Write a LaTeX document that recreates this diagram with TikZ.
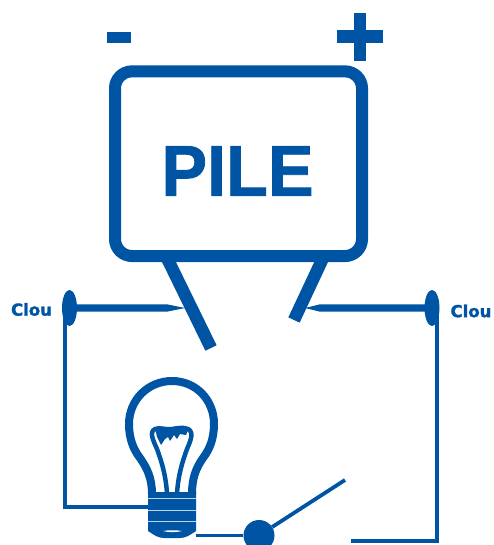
\documentclass[tikz,border=0pt]{standalone}
\usepackage{fontspec}
\setmainfont{Liberation Sans}
\newfontfamily\cloufont{DejaVu Sans Bold}[FakeBold=1.5]
\newfontfamily\pilefont{Liberation Sans Bold}[FakeBold=1.2]
\definecolor{pileblue}{HTML}{0054A4}
\usetikzlibrary{shapes.geometric}
\tikzset{
  x=1pt,y=-1pt,
  wire/.style={draw=pileblue,line width=3.8pt},
  contactbar/.style={draw=pileblue,line width=12.5pt},
  nailhead/.style={ellipse,fill=pileblue,inner sep=0pt,minimum width=15pt,minimum height=36pt},
  nailtext/.style={text=pileblue,font=\cloufont\fontsize{16.5}{16.5}\selectfont,inner sep=0pt},
  bulbline/.style={draw=pileblue,line width=8pt,line join=round},
  filament/.style={draw=pileblue,line width=4.5pt,line join=round},
  stripe/.style={draw=white!75!pileblue,line width=.7pt},
}
\begin{document}
\begin{tikzpicture}
\useasboundingbox (0,0) rectangle (493,545);
% battery
\node[draw=pileblue,line width=12pt,rounded corners=17pt,minimum width=247pt,minimum height=184.7pt,inner sep=0pt] (pile) at (238.5,163.7) {};
\node[text=pileblue,font=\pilefont\fontsize{72}{72}\selectfont,inner sep=0pt,xscale=.95] (piletext) at (237.5,171) {PILE};
\fill[pileblue] (107,32) rectangle (131,43);
\fill[pileblue] (337,30) rectangle (383,43);
\fill[pileblue] (354,13) rectangle (366,61);
% contact bars
\coordinate (barLtop) at (167,258);
\coordinate (barLend) at (211,348);
\coordinate (barRtop) at (323,258);
\coordinate (barRend) at (294,320);
\draw[contactbar] (barLtop) -- (barLend);
\draw[contactbar] (barRtop) -- (barRend);
% nails
\node[nailhead] (headL) at (69.5,308) {};
\node[nailhead] (headR) at (432,308) {};
\fill[pileblue] (69.5,304.3) -- (167,304.3) -- (185,308) -- (167,311.7) -- (69.5,311.7) -- cycle;
\fill[pileblue] (432,304.3) -- (320,304.3) -- (305,308) -- (320,311.7) -- (432,311.7) -- cycle;
\node[nailtext] (clouL) at (31.5,309.5) {Clou};
\node[nailtext] (clouR) at (471,311) {Clou};
% bulb glass
\coordinate (baseL) at (148,507);
\coordinate (baseR) at (196,535.5);
\draw[bulbline] (152,494) .. controls (152,478) and (147,468) .. (140,458)
  .. controls (133,449) and (129,438) .. (129,424)
  .. controls (129,400) and (148,381) .. (172,381)
  .. controls (196,381) and (214,400) .. (214,424)
  .. controls (214,438) and (210,449) .. (203,458)
  .. controls (196,468) and (192,478) .. (192,494);
% filament
\draw[filament] (167,494) .. controls (166,475) and (161,460) .. (157,449)
  .. controls (153,440) and (149,432) .. (155,429)
  .. controls (160,427) and (165,430) .. (172,429)
  .. controls (179,428) and (183,427) .. (188,429)
  .. controls (194,432) and (191,440) .. (187,449)
  .. controls (183,460) and (178,475) .. (177,494);
\fill[pileblue] (155,428) -- (189,428) -- (186,435) -- (180,434) -- (177,439) -- (174,435) -- (170,441) -- (168,437) -- (165,439) -- (161,445) -- (157,437) -- cycle;
% bulb base
\fill[pileblue] (148,492) -- (196,492) -- (196,531) .. controls (190,535) and (186,538) .. (180,538) -- (164,538) .. controls (158,538) and (154,535) .. (148,531) -- cycle;
\fill[white] (163,531) .. controls (168,532.5) and (177,532.5) .. (182,531) .. controls (177,530) and (168,530) .. (163,531) -- cycle;
\draw[stripe] (148,498) -- (196,498);
\draw[stripe] (148,510.5) -- (196,510.5);
\draw[stripe] (148,521.5) -- (196,521.5);
% wires and switch
\node[circle,fill=pileblue,minimum size=31pt,inner sep=0pt] (ball) at (259,535.5) {};
\coordinate (swEnd) at (345,480);
\coordinate (rc) at (437,541);
\coordinate (swIn) at (351,541);
\coordinate (lc) at (65,507);
\draw[wire] (headL.center -| lc) -- (lc) -- (baseL);
\draw[wire] (baseR) -- (ball);
\draw[draw=pileblue,line width=3.8pt] (ball) -- (swEnd);
\draw[wire] (swIn) -- (rc) -- (rc |- headR.center);
\end{tikzpicture}
\end{document}
